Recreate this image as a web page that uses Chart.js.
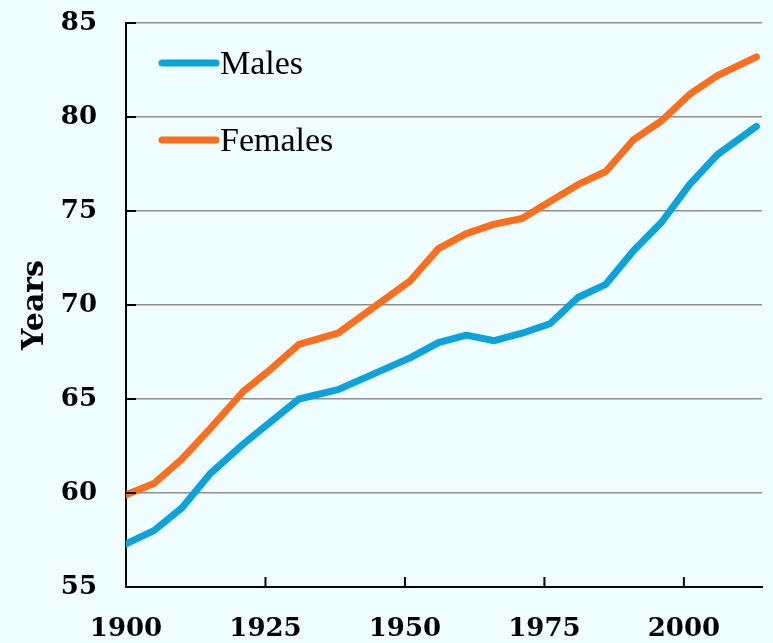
<!DOCTYPE html>
<html>
<head>
<meta charset="utf-8">
<script src="https://cdn.jsdelivr.net/npm/chart.js@4/dist/chart.umd.min.js"></script>
<style>
  html, body { margin: 0; padding: 0; background: #effdfe; }
  #wrap { width: 773px; height: 643px; }
</style>
</head>
<body>
<div id="wrap"><canvas id="grafico"></canvas></div>
<script>
// Esperança de vida à nascença
const anos = [1900, 1905, 1910, 1915, 1921, 1926, 1931, 1938, 1951, 1956, 1961,
              1966, 1971, 1976, 1981, 1986, 1991, 1996, 2001, 2006, 2013];
const homens = [57.3, 58.0, 59.2, 61.0, 62.6, 63.8, 65.0, 65.5, 67.2, 68.0, 68.4,
                68.1, 68.5, 69.0, 70.4, 71.1, 72.9, 74.4, 76.4, 78.0, 79.5];
const mulheres = [59.9, 60.5, 61.8, 63.4, 65.4, 66.6, 67.9, 68.5, 71.3, 73.0, 73.8,
                  74.3, 74.6, 75.5, 76.4, 77.1, 78.8, 79.8, 81.2, 82.2, 83.2];
const nomesSeries = ['Males', 'Females'];
const coresSeries = ['#0ba3d9', '#fa6e1e'];

const fonteEixo = { family: 'DejaVu Serif', size: 26, weight: 'bold' };

// fundo, marcas internas dos eixos e legenda dentro da área
const extras = {
    id: 'extras',
    beforeDraw(chart) {
        const c = chart.ctx;
        c.save();
        c.fillStyle = '#effdfe';
        c.fillRect(0, 0, chart.width, chart.height);
        c.restore();
    },
    afterDraw(chart) {
        const c = chart.ctx;
        const area = chart.chartArea;
        const sx = chart.scales.x, sy = chart.scales.y;
        c.save();
        c.strokeStyle = '#000';
        c.lineWidth = 2;
        sy.ticks.forEach(t => {
            const y = sy.getPixelForValue(t.value);
            c.beginPath(); c.moveTo(area.left, y); c.lineTo(area.left + 10, y); c.stroke();
        });
        sx.ticks.forEach(t => {
            const x = sx.getPixelForValue(t.value);
            c.beginPath(); c.moveTo(x, area.bottom); c.lineTo(x, area.bottom - 10); c.stroke();
        });

        // legenda
        c.font = '34px "Liberation Serif"';
        c.fillStyle = '#000';
        c.textBaseline = 'alphabetic';
        chart.data.datasets.forEach((ds, i) => {
            const y = area.top + 40 + i * 77;
            c.strokeStyle = ds.borderColor;
            c.lineWidth = 7;
            c.lineCap = 'round';
            c.beginPath(); c.moveTo(area.left + 36, y); c.lineTo(area.left + 90, y); c.stroke();
            c.fillText(ds.label, area.left + 94, y + 11);
        });
        c.restore();
    }
};

const pontos = serie => anos.map((a, i) => ({ x: a, y: serie[i] }));

new Chart(document.getElementById('grafico'), {
    type: 'line',
    data: {
        datasets: [
            { label: nomesSeries[0], data: pontos(homens), borderColor: coresSeries[0] },
            { label: nomesSeries[1], data: pontos(mulheres), borderColor: coresSeries[1] }
        ]
    },
    options: {
        responsive: true,
        maintainAspectRatio: false,
        animation: false,
        layout: { autoPadding: false, padding: { left: 0, right: 11, top: 23, bottom: 0 } },
        elements: {
            line: { borderWidth: 7, tension: 0, borderCapStyle: 'round', borderJoinStyle: 'round' },
            point: { radius: 0 }
        },
        plugins: { legend: { display: false }, tooltip: { enabled: false } },
        scales: {
            x: {
                type: 'linear',
                min: 1900,
                max: 2014,
                ticks: {
                    stepSize: 25, includeBounds: false, color: '#000', font: fonteEixo,
                    padding: 27, maxRotation: 0,
                    callback: v => String(v)
                },
                grid: { display: false, drawTicks: false },
                border: { color: '#000', width: 2 },
                afterFit: s => { s.height = 56; s.paddingLeft = 0; s.paddingRight = 0; }
            },
            y: {
                min: 55,
                max: 85,
                ticks: { stepSize: 5, color: '#000', font: fonteEixo, padding: 29 },
                grid: { color: '#8f8f8f', lineWidth: 1.5, drawTicks: false },
                border: { color: '#000', width: 2 },
                title: {
                    display: true,
                    text: 'Years',
                    color: '#000',
                    font: { family: 'DejaVu Serif', size: 30, weight: 'bold' },
                    padding: { top: 17, bottom: 0 }
                },
                afterFit: s => { s.width = 126; s.paddingTop = 0; s.paddingBottom = 0; }
            }
        }
    },
    plugins: [extras]
});
</script>
</body>
</html>
